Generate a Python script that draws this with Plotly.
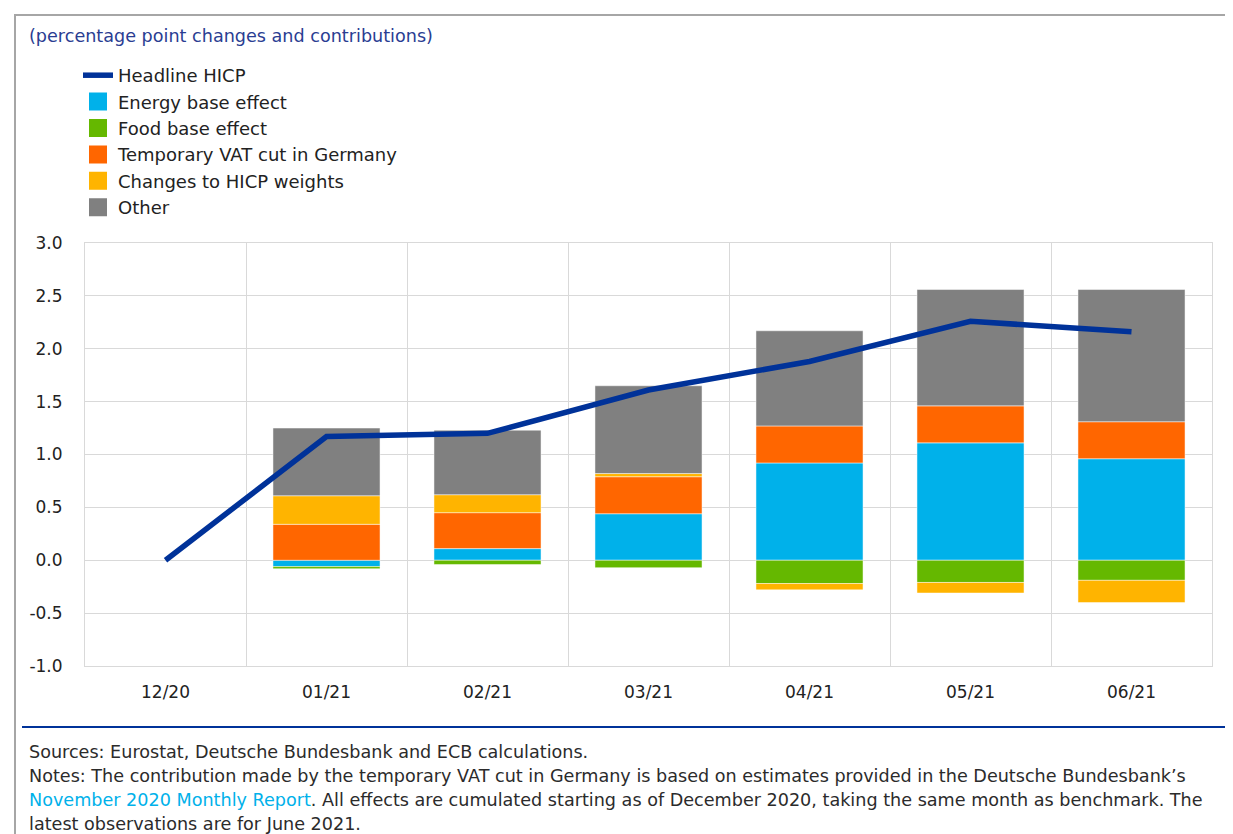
import plotly.graph_objects as go

months = ['12/20', '01/21', '02/21', '03/21', '04/21', '05/21', '06/21']

headline = [0.0, 1.17, 1.20, 1.61, 1.88, 2.26, 2.16]
# no contributions are shown for the benchmark month
energy = [None, -0.06, 0.11, 0.44, 0.92, 1.11, 0.96]
food = [None, -0.02, -0.04, -0.07, -0.22, -0.21, -0.19]
vat = [None, 0.34, 0.34, 0.35, 0.35, 0.35, 0.35]
weights = [None, 0.27, 0.17, 0.03, -0.06, -0.10, -0.21]
other = [None, 0.64, 0.61, 0.83, 0.90, 1.10, 1.25]

yticks = [3.0, 2.5, 2.0, 1.5, 1.0, 0.5, 0.0, -0.5, -1.0]

FONT = 'DejaVu Sans, Arial, sans-serif'
GRID = '#d9d9d9'

# page offset of the plotly div inside the browser (body margin)
OFF = 8
L, R, T, B = 85 - OFF, 1233 - (1212 - OFF), 243 - OFF, 834 - (666 - OFF)
PW, PH = 1233 - L - R, 834 - T - B


def px_x(p):
    return (p - OFF - L) / PW


def px_y(p):
    return (834 - B - (p - OFF)) / PH


fig = go.Figure()

bars = [
    ('Energy base effect', energy, '#00b1ea', 2),
    ('Food base effect', food, '#65b800', 3),
    ('Temporary VAT cut in Germany', vat, '#ff6600', 4),
    ('Changes to HICP weights', weights, '#ffb400', 5),
    ('Other', other, '#808080', 6),
]
for name, vals, col, rank in bars:
    fig.add_trace(go.Bar(
        x=months, y=vals, name=name, showlegend=False, legendgroup=name,
        marker=dict(color=col, line=dict(color='rgba(255,255,255,0.6)', width=0.8)),
    ))
    # legend-only entry, so the key square can be larger than the bar default
    fig.add_trace(go.Scatter(
        x=[None], y=[None], name=name, mode='markers', legendrank=rank,
        legendgroup=name,
        marker=dict(symbol='square', size=17, color=col, line=dict(color=col, width=2)),
    ))

fig.add_trace(go.Scatter(
    x=months, y=headline, name='Headline HICP', mode='lines', legendrank=1,
    line=dict(color='#003299', width=5.5),
))

fig.update_layout(
    width=1233, height=834,
    margin=dict(l=L, r=R, t=T, b=B),
    paper_bgcolor='white', plot_bgcolor='white',
    barmode='relative', bargap=0.335,
    font=dict(family=FONT, size=17, color='#222222'),
    showlegend=True,
    legend=dict(
        x=px_x(78), y=px_y(57), xanchor='left', yanchor='top',
        font=dict(size=18, color='#222222'),
        tracegroupgap=0, itemwidth=30, bgcolor='rgba(0,0,0,0)',
    ),
)

fig.update_xaxes(
    type='category', tickson='boundaries', showgrid=True,
    gridcolor=GRID, gridwidth=1, ticks='', showline=True, mirror=True,
    linecolor=GRID, linewidth=1, ticklabelstandoff=11,
    tickfont=dict(size=17, color='#222222'), zeroline=False,
)
fig.update_yaxes(
    range=[-1.0, 3.0], tickvals=yticks, ticktext=['%.1f' % v for v in yticks],
    showgrid=True, gridcolor=GRID, gridwidth=1, zeroline=False,
    showline=True, mirror=True, linecolor=GRID, linewidth=1,
    ticks='', ticklabelstandoff=18,
    tickfont=dict(size=17, color='#222222'),
)

# outer frame and separator line
fig.add_shape(type='line', xref='paper', yref='paper',
              x0=px_x(14), x1=px_x(1245), y0=px_y(15), y1=px_y(15),
              line=dict(color='#a6a6a6', width=2))
fig.add_shape(type='line', xref='paper', yref='paper',
              x0=px_x(15), x1=px_x(15), y0=px_y(14), y1=px_y(850),
              line=dict(color='#a6a6a6', width=2))
fig.add_shape(type='line', xref='paper', yref='paper',
              x0=px_x(22), x1=px_x(1245), y0=px_y(727), y1=px_y(727),
              line=dict(color='#003299', width=2))

fig.add_annotation(
    text='(percentage point changes and contributions)',
    xref='paper', yref='paper', x=px_x(27), y=px_y(36),
    xanchor='left', yanchor='middle', showarrow=False,
    font=dict(size=17.6, color='#2a3d92'),
)

notes = [
    'Sources: Eurostat, Deutsche Bundesbank and ECB calculations.',
    'Notes: The contribution made by the temporary VAT cut in Germany is based on estimates provided in the Deutsche Bundesbank\u2019s',
    '<span style="color:#00b1ea">November 2020 Monthly Report</span>. All effects are cumulated starting as of December 2020, taking the same month as benchmark. The',
    'latest observations are for June 2021.',
]
for i, line in enumerate(notes):
    fig.add_annotation(
        text=line, xref='paper', yref='paper',
        x=px_x(27), y=px_y(752 + 24 * i),
        xanchor='left', yanchor='middle', showarrow=False, align='left',
        font=dict(size=17.6, color='#2b2b2b'),
    )

fig.write_html('out.html')
